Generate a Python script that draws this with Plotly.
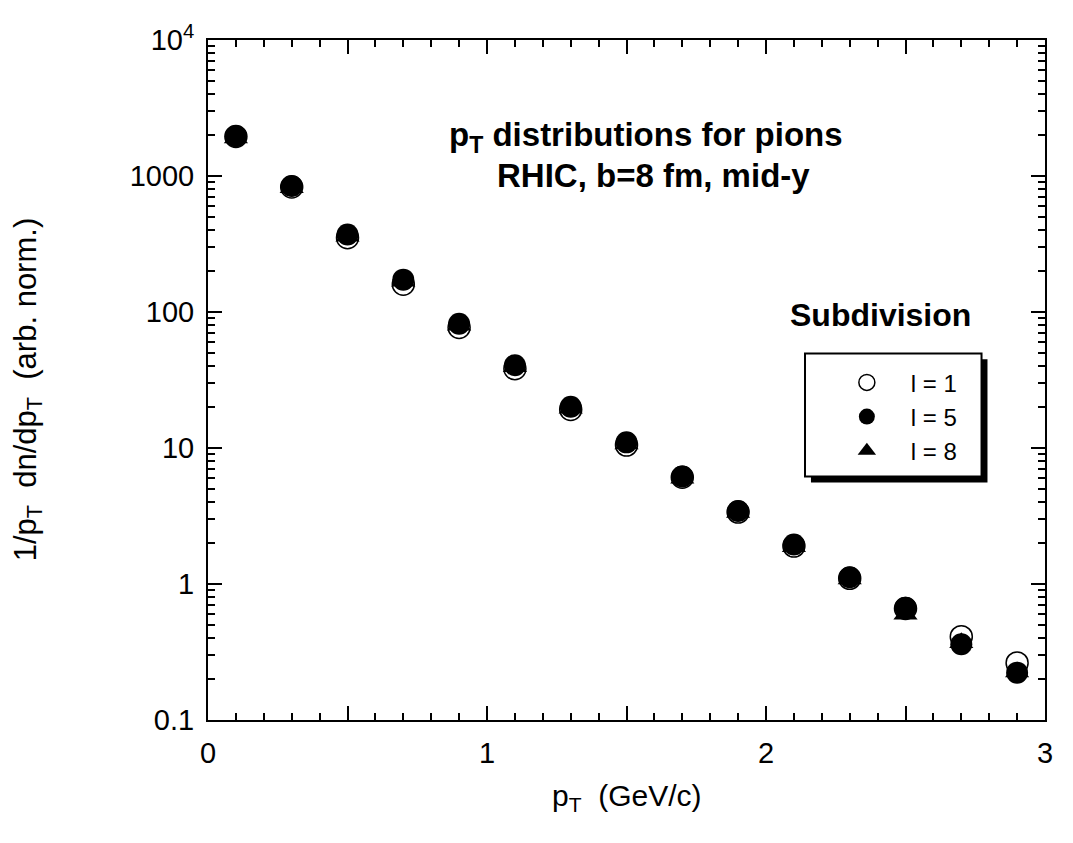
import plotly.graph_objects as go

# ---- data ----
pt = [0.1, 0.3, 0.5, 0.7, 0.9, 1.1, 1.3, 1.5, 1.7, 1.9, 2.1, 2.3, 2.5, 2.7, 2.9]
l1 = [1950, 830, 352, 160, 77, 38.3, 19.2, 10.5, 6.1, 3.38, 1.9, 1.1, 0.66, 0.41, 0.263]
l5 = [1960, 845, 372, 173, 82, 40.6, 20.1, 11.0, 6.17, 3.44, 1.95, 1.12, 0.67, 0.36, 0.223]
l8 = [1900, 820, 360, 168, 80, 39.5, 19.6, 10.7, 6.0, 3.35, 1.88, 1.09, 0.60, 0.37, 0.225]
series_names = ["l = 1", "l = 5", "l = 8"]

x_major = [0, 0.5, 1, 1.5, 2, 2.5, 3]
x_labels = ["0", "", "1", "", "2", "", "3"]
y_major = [0.1, 1, 10, 100, 1000, 10000]
y_labels = ["0.1", "1", "10", "100", "1000", "10<sup>4</sup>"]

FONT = "Liberation Sans, Arial, sans-serif"

fig = go.Figure()
fig.add_trace(go.Scatter(x=pt, y=l1, mode="markers", name=series_names[0],
                         marker=dict(symbol="circle", size=22, color="white",
                                     line=dict(color="black", width=1.5))))
fig.add_trace(go.Scatter(x=pt, y=l5, mode="markers", name=series_names[1],
                         marker=dict(symbol="circle", size=22, color="black",
                                     line=dict(color="black", width=0))))
fig.add_trace(go.Scatter(x=pt, y=l8, mode="markers", name=series_names[2],
                         marker=dict(symbol="triangle-up", size=21, color="black",
                                     line=dict(color="black", width=0))))

# page is drawn with an 8px body margin -> figure is 16px smaller than window
OFF = 8
PW, PH = 1073, 843
W, H = PW - 2 * OFF, PH - 2 * OFF
# plot area in page pixels: x 208..1052, y 30..720
L, R, T, B = 208 - OFF, PW - 1052 - OFF, 30 - OFF, PH - 720 - OFF
pw, ph = W - L - R, H - T - B

def px(xp):  # page pixel -> paper
    return (xp - OFF - L) / pw

def py(yp):
    return (H - B - (yp - OFF)) / ph

# legend box with drop shadow
bx0, bx1, by0, by1 = 810, 988, 348, 473
sh = 6
fig.add_shape(type="rect", xref="paper", yref="paper",
              x0=px(bx0 + sh), x1=px(bx1 + sh), y0=py(by1 + sh), y1=py(by0 + sh),
              fillcolor="black", line=dict(color="black", width=0), layer="below")
fig.add_shape(type="rect", xref="paper", yref="paper",
              x0=px(bx0), x1=px(bx1), y0=py(by1), y1=py(by0),
              fillcolor="white", line=dict(color="black", width=2), layer="below")

def note(text, x, y, size, angle=0):
    fig.add_annotation(text=text, xref="paper", yref="paper", x=px(x), y=py(y),
                       xanchor="center", yanchor="middle", showarrow=False,
                       textangle=angle, font=dict(family=FONT, size=size, color="black"))

note("<b>Subdivision</b>", 886, 309, 32)
note("<b>p<sub>T</sub> distributions for pions</b>", 650, 128, 33)
note("<b>RHIC, b=8 fm, mid-y</b>", 657, 167, 33)
note("1/p<sub>T</sub>  dn/dp<sub>T</sub>  (arb. norm.)", 26, 385, 31, angle=-90)
note("p<sub>T</sub>  (GeV/c)", 631, 799, 30)

axis_common = dict(showline=True, linecolor="black", linewidth=2, mirror="allticks",
                   ticks="inside", ticklen=14, tickwidth=1.5, tickcolor="black",
                   showgrid=False, zeroline=False,
                   tickfont=dict(family=FONT, size=29, color="black"))

fig.update_xaxes(range=[0, 3], tickmode="array", tickvals=x_major, ticktext=x_labels,
                 ticklabelstandoff=6,
                 minor=dict(dtick=0.1, ticks="inside", ticklen=7, tickwidth=1.5,
                            tickcolor="black", showgrid=False),
                 **axis_common)
fig.update_yaxes(type="log", range=[-1, 4], tickmode="array", tickvals=y_major, ticktext=y_labels,
                 ticklabelstandoff=6,
                 minor=dict(dtick="D1", ticks="inside", ticklen=7, tickwidth=1.5,
                            tickcolor="black", showgrid=False),
                 **axis_common)

fig.update_layout(width=W, height=H, margin=dict(l=L, r=R, t=T, b=B),
                  paper_bgcolor="white", plot_bgcolor="white",
                  font=dict(family=FONT, color="black"),
                  showlegend=True,
                  legend=dict(x=px(828), y=py(355), xanchor="left", yanchor="top",
                              bgcolor="rgba(0,0,0,0)", borderwidth=0, itemwidth=78,
                              font=dict(family=FONT, size=24, color="black"),
                              itemsizing="trace", tracegroupgap=0))

fig.write_html("out.html")
